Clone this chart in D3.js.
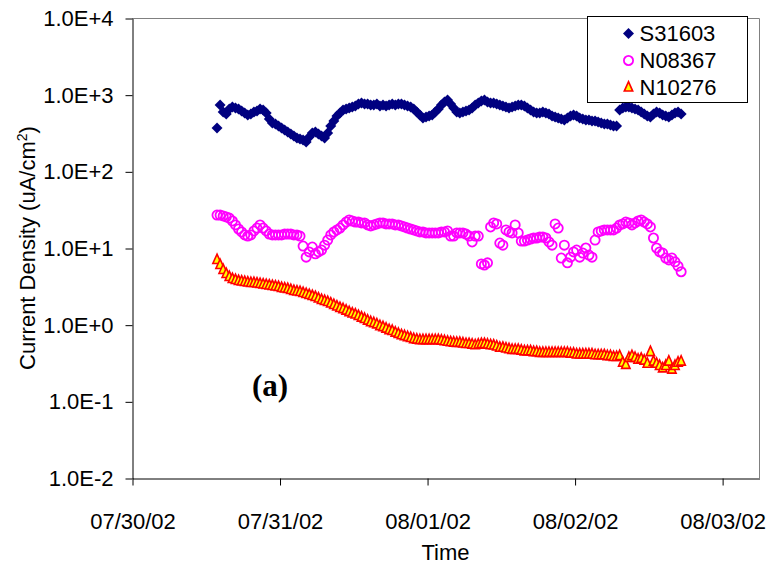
<!DOCTYPE html>
<html lang="en">
  <head>
    <meta charset="UTF-8" />
    <title>Current Density vs Time</title>
    <style>
      body { margin: 0; background: #fff; }
      svg text { fill: #000; }
    </style>
  </head>
  <body>
    <svg width="768" height="569"></svg>
    <script src="https://cdnjs.cloudflare.com/ajax/libs/d3/7.8.5/d3.min.js"></script>
    <script>
      // logger readings: first sample and interval between samples
      var startTime = new Date(2002, 6, 30, 13, 50);
      var stepMinutes = 30;

      // current density, uA/cm2
      var s31603 = [367, 733, 594, 560, 650, 690, 670, 650, 612, 577,
        543, 560, 594, 612, 650, 631, 577, 482, 427, 414,
        390, 367, 346, 326, 307, 289, 272, 264, 256, 241,
        280, 316, 326, 307, 289, 272, 316, 390, 453, 527,
        577, 631, 650, 670, 690, 711, 755, 778, 755, 755,
        733, 733, 755, 711, 733, 711, 733, 755, 733, 755,
        755, 733, 711, 690, 650, 594, 543, 496, 511, 527,
        543, 594, 650, 733, 802, 852, 755, 670, 594, 577,
        594, 612, 631, 670, 733, 778, 827, 852, 802, 778,
        778, 755, 733, 711, 690, 670, 690, 711, 733, 733,
        711, 670, 631, 594, 577, 577, 594, 577, 560, 527,
        511, 496, 482, 467, 496, 527, 543, 527, 496, 482,
        467, 467, 453, 453, 440, 427, 414, 414, 402, 390,
        390, 631, 670, 690, 690, 670, 650, 631, 594, 560,
        527, 511, 560, 594, 577, 543, 527, 511, 543, 577,
        594, 560];

      var n08367 = [26.9, 26.9, 26.2, 25.4, 24.6, 22.5, 20.0, 17.7, 16.2, 14.8,
        14.3, 14.8, 16.7, 18.2, 20.0, 18.2, 16.7, 15.2, 14.8, 14.8,
        14.8, 14.8, 15.2, 15.2, 15.2, 14.8, 14.8, 14.3, 10.6, 7.6,
        8.9, 10.3, 8.4, 8.9, 9.4, 10.9, 12.7, 14.8, 16.2, 17.2,
        18.2, 20.0, 21.8, 23.2, 22.5, 21.8, 21.8, 21.2, 21.2, 20.0,
        19.4, 20.0, 20.6, 21.2, 21.2, 20.6, 20.6, 20.6, 20.0, 20.0,
        19.4, 18.8, 18.2, 17.7, 17.2, 16.7, 16.2, 16.2, 15.7, 15.7,
        15.7, 15.7, 15.7, 16.2, 16.2, 16.7, 14.3, 14.3, 15.7, 15.7,
        15.7, 15.2, 14.3, 12.0, 14.3, 14.3, 6.2, 6.0, 6.4, 18.8,
        21.2, 20.6, 11.6, 10.9, 17.2, 16.2, 15.7, 20.0, 15.7, 12.3,
        12.3, 12.7, 13.1, 13.5, 13.5, 13.9, 13.9, 13.5, 12.0, 10.9,
        20.6, 18.2, 7.4, 10.9, 6.4, 7.6, 8.9, 9.4, 7.6, 8.6,
        10.0, 8.1, 7.6, 12.7, 16.2, 16.7, 17.2, 17.2, 17.2, 17.2,
        18.2, 20.0, 20.6, 21.8, 21.2, 20.0, 21.2, 22.5, 23.2, 21.8,
        20.6, 18.8, 13.5, 10.0, 8.9, 8.6, 7.4, 7.0, 7.4, 6.6,
        5.8, 4.9];

      var n10276 = [6.98, 6.01, 5.17, 4.59, 4.19, 3.95, 3.83, 3.72, 3.66, 3.61,
        3.55, 3.50, 3.50, 3.45, 3.40, 3.35, 3.30, 3.25, 3.20, 3.15,
        3.10, 3.01, 2.97, 2.92, 2.84, 2.75, 2.71, 2.67, 2.59, 2.52,
        2.44, 2.37, 2.30, 2.20, 2.10, 2.04, 1.98, 1.89, 1.81, 1.73,
        1.65, 1.60, 1.53, 1.46, 1.40, 1.36, 1.30, 1.24, 1.19, 1.13,
        1.08, 1.05, 1.01, 0.96, 0.93, 0.89, 0.85, 0.83, 0.79, 0.76,
        0.73, 0.71, 0.69, 0.67, 0.65, 0.64, 0.63, 0.63, 0.63, 0.63,
        0.63, 0.63, 0.63, 0.62, 0.61, 0.60, 0.59, 0.585, 0.58, 0.58,
        0.57, 0.56, 0.56, 0.55, 0.54, 0.55, 0.56, 0.56, 0.55, 0.54,
        0.535, 0.52, 0.50, 0.50, 0.49, 0.48, 0.47, 0.47, 0.47, 0.46,
        0.45, 0.45, 0.45, 0.44, 0.44, 0.43, 0.43, 0.43, 0.43, 0.43,
        0.43, 0.43, 0.43, 0.43, 0.43, 0.42, 0.42, 0.41, 0.41, 0.41,
        0.41, 0.41, 0.41, 0.40, 0.40, 0.40, 0.40, 0.39, 0.39, 0.38,
        0.38, 0.39, 0.32, 0.30, 0.37, 0.39, 0.37, 0.35, 0.36, 0.34,
        0.31, 0.44, 0.33, 0.31, 0.29, 0.27, 0.29, 0.33, 0.26, 0.29,
        0.32, 0.33];

      var seriesNames = ["S31603", "N08367", "N10276"];
      var yTicks = [1e-2, 1e-1, 1, 10, 100, 1000, 10000];
      var yTickLabels = ["1.0E-2", "1.0E-1", "1.0E+0", "1.0E+1", "1.0E+2", "1.0E+3", "1.0E+4"];
      var xTickLabels = ["07/30/02", "07/31/02", "08/01/02", "08/02/02", "08/03/02"];
      var xEnd = "08/03/02 06:00";

      (function () {
        var sans = '"Liberation Sans", Arial, sans-serif';
        var svg = d3.select("svg");
        var plotLeft = 132, plotRight = 759, plotTop = 18, plotBottom = 478;
        var parseDay = d3.timeParse("%m/%d/%y");

        var x = d3
          .scaleTime()
          .domain([parseDay(xTickLabels[0]), d3.timeParse("%m/%d/%y %H:%M")(xEnd)])
          .range([plotLeft, plotRight]);

        var y = d3.scaleLog().domain([1e-2, 1e4]).range([plotBottom, plotTop]);

        function toPoints(values) {
          return values.map(function (v, i) {
            return { t: d3.timeMinute.offset(startTime, i * stepMinutes), v: v };
          });
        }

        // plot frame: grey top/right, black axes left/bottom
        svg
          .append("path")
          .attr("d", "M" + plotLeft + "," + (plotTop + 0.5) + "H" + (plotRight + 0.5) + "V" + plotBottom)
          .attr("fill", "none")
          .attr("stroke", "#808080")
          .attr("stroke-width", 1);

        var yAxis = svg
          .append("g")
          .attr("transform", "translate(" + (plotLeft + 0.5) + ",0.5)")
          .call(
            d3
              .axisLeft(y)
              .tickValues(yTicks)
              .tickFormat(function (d, i) {
                return yTickLabels[i];
              })
              .tickSizeInner(7)
              .tickSizeOuter(0)
              .tickPadding(12)
          );

        var xAxis = svg
          .append("g")
          .attr("transform", "translate(0.5," + (plotBottom + 0.5) + ")")
          .call(
            d3
              .axisBottom(x)
              .tickValues(xTickLabels.map(parseDay))
              .tickFormat(d3.timeFormat("%m/%d/%y"))
              .tickSizeInner(7)
              .tickSizeOuter(0)
              .tickPadding(28)
          );

        [yAxis, xAxis].forEach(function (ax) {
          ax.selectAll("path, line").attr("stroke", "#000");
          ax.selectAll("text").style("font-size", "22px").style("font-family", sans);
        });

        // Excel-like markers, a bit taller triangle than d3's equilateral one
        var tallTriangle = {
          draw: function (ctx, size) {
            var w = Math.sqrt(size) * 0.62;
            ctx.moveTo(0, -w * 1.38);
            ctx.lineTo(w, w * 0.85);
            ctx.lineTo(-w, w * 0.85);
            ctx.closePath();
          },
        };
        var diamond = d3.symbol().type(d3.symbolSquare).size(60);
        var triangle = d3.symbol().type(tallTriangle).size(46);

        function drawDiamond(g) {
          g.append("path")
            .attr("d", diamond())
            .attr("transform", "rotate(45)")
            .attr("fill", "#000080");
        }
        function drawCircle(g) {
          g.append("circle")
            .attr("r", 4.6)
            .attr("fill", "none")
            .attr("stroke", "#ff00ff")
            .attr("stroke-width", 1.8);
        }
        function drawTriangle(g) {
          g.append("path")
            .attr("d", triangle())
            .attr("fill", "#ffff00")
            .attr("stroke", "#ff0000")
            .attr("stroke-width", 1.6);
        }

        var series = [
          { name: seriesNames[0], values: s31603, draw: drawDiamond },
          { name: seriesNames[1], values: n08367, draw: drawCircle },
          { name: seriesNames[2], values: n10276, draw: drawTriangle },
        ];

        series.forEach(function (s) {
          svg
            .append("g")
            .selectAll("g")
            .data(toPoints(s.values))
            .enter()
            .append("g")
            .attr("transform", function (d) {
              return "translate(" + x(d.t) + "," + y(d.v) + ")";
            })
            .each(function () {
              s.draw(d3.select(this));
            });
        });

        // legend
        var legend = svg.append("g").attr("transform", "translate(587.5,16.5)");
        legend
          .append("rect")
          .attr("width", 160)
          .attr("height", 86)
          .attr("fill", "#fff")
          .attr("stroke", "#000");
        series.forEach(function (s, i) {
          var row = legend.append("g").attr("transform", "translate(41," + (17 + i * 27) + ")");
          s.draw(row.append("g"));
          row
            .append("text")
            .attr("x", 11)
            .attr("dy", "0.36em")
            .style("font-size", "22px")
            .style("font-family", sans)
            .text(s.name);
        });

        // axis titles
        var yTitle = svg
          .append("text")
          .attr("transform", "translate(27," + (plotTop + plotBottom) / 2 + ") rotate(-90)")
          .attr("text-anchor", "middle")
          .attr("dy", "0.36em")
          .style("font-size", "22px")
          .style("font-family", sans);
        yTitle.append("tspan").text("Current Density (uA/cm");
        yTitle.append("tspan").attr("baseline-shift", "super").style("font-size", "14px").text("2");
        yTitle.append("tspan").text(")");

        svg
          .append("text")
          .attr("x", (plotLeft + plotRight) / 2)
          .attr("y", 560)
          .attr("text-anchor", "middle")
          .style("font-size", "22px")
          .style("font-family", sans)
          .text("Time");

        svg
          .append("text")
          .attr("x", 252)
          .attr("y", 396)
          .style("font-family", '"Liberation Serif", "Times New Roman", serif')
          .style("font-weight", "bold")
          .style("font-size", "31px")
          .text("(a)");
      })();
    </script>
  </body>
</html>
